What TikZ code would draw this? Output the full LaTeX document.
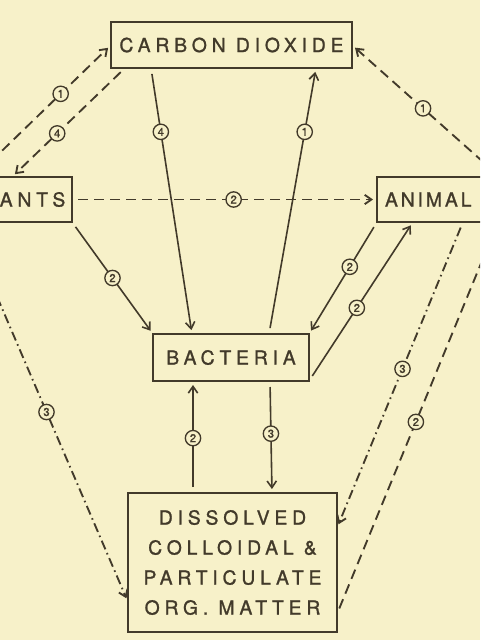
\documentclass[tikz,border=0pt]{standalone}
\usepackage{fontspec}
\usetikzlibrary{arrows.meta,calc}
\newfontfamily\boxfont{TeX Gyre Heros}[LetterSpace=25, FakeBold=1.2]
\newfontfamily\numfont{TeX Gyre Heros}[FakeBold=1]
\definecolor{paper}{RGB}{247,241,201}
\definecolor{ink}{RGB}{66,58,42}
\begin{document}
\begin{tikzpicture}[x=0.75pt, y=-0.75pt, align=center,
	>={Straight Barb[length=5pt,width=7pt]},
	box/.style={draw=ink, line width=1.8pt, inner sep=0pt, outer sep=0pt, text=ink,
		font=\boxfont\fontsize{14.5}{22.5}\selectfont},
	num/.style={circle, draw=ink, fill=paper, solid, line width=1pt, inner sep=0pt,
		minimum size=11.5pt, text=ink, font=\numfont\fontsize{8.5}{8.5}\selectfont},
	flow/.style={draw=ink, line width=1.2pt, shorten >=3pt, shorten <=4.5pt},
	dashflow/.style={flow, line width=1.4pt, dash pattern=on 7.5pt off 4.5pt},
	dotflow/.style={flow, line width=1.4pt, dash pattern=on 7pt off 3pt on 1.2pt off 3pt}]
		\fill[paper] (0,0) rectangle (480,640);
		\clip (0,0) rectangle (480,640);
		\node[box, minimum width=180.75pt, minimum height=34.5pt] (co) at (231.5,45) {CARBON DIOXIDE};
		\node[box, minimum height=33.75pt, anchor=east, inner xsep=5pt, text width=67pt, align=right] (pl) at (72,199.5) {ANTS};
		\node[box, minimum height=33.75pt, anchor=west, inner xsep=6pt, text width=90pt, align=left,
			font=\boxfont\fontsize{14.5}{22.5}\selectfont\addfontfeature{LetterSpace=15}] (an) at (377,199.5) {ANIMAL};
		\node[box, minimum width=117pt, minimum height=35.25pt] (bac) at (231,357.5) {BACTERIA};
		\node[box, minimum width=156.75pt, minimum height=104.25pt] (dis) at (232.5,562.5) {DISSOLVED\\COLLOIDAL \&\\PARTICULATE\\ORG. MATTER};
		\draw ($(pl.north east)+(-97,0)$) edge[dashflow, ->] node[num, pos=0.63]{1} (co.west);
		\draw ($(co.south west)+(14,0)$) edge[dashflow, ->] node[num, pos=0.60]{4} ($(pl.north east)+(-60,0)$);
		\draw ($(co.south west)+(40,0)$) edge[flow, ->] node[num, pos=0.24]{4} ($(bac.north west)+(39,0)$);
		\draw ($(bac.north west)+(116,0)$) edge[flow, ->] node[num, pos=0.76]{1} ($(co.south west)+(205,0)$);
		\draw ($(an.north west)+(123,0)$) edge[dashflow, ->] node[num, pos=0.52]{1} (co.east);
		\draw (pl.east) edge[dashflow, ->] node[num, pos=0.53]{2} (an.west);
		\draw (pl.south east) edge[flow, ->] node[num, pos=0.5]{2} (bac.north west);
		\draw (an.south west) edge[flow, ->] node[num, pos=0.4]{2} (bac.north east);
		\draw (bac.south east) edge[flow, ->] node[num, pos=0.46]{2} ($(an.south west)+(36,0)$);
		\draw ($(dis.north west)+(65,0)$) edge[flow, ->] node[num, pos=0.49]{2} ($(bac.south west)+(40,0)$);
		\draw ($(bac.south west)+(117,0)$) edge[flow, ->] node[num, pos=0.47]{3} ($(dis.north west)+(144,0)$);
		\draw ($(pl.south east)+(-107,0)$) edge[dotflow, ->] node[num, pos=0.5]{3} ($(dis.south west)+(0,-30)$);
		\draw ($(an.south west)+(86,0)$) edge[dotflow, ->] node[num, pos=0.48]{3} ($(dis.north east)+(0,35)$);
		\draw ($(dis.south east)+(0,-18)$) edge[dashflow, ->] node[num, pos=0.49]{2} ($(an.south west)+(121,0)$);
	\end{tikzpicture}
\end{document}
